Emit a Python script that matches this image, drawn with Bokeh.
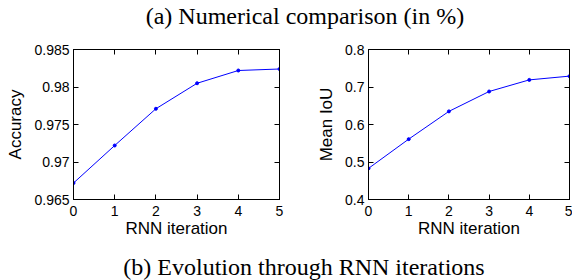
from bokeh.plotting import figure
from bokeh.models import Div, LinearAxis, FixedTicker, CustomJSTickFormatter, Range1d
from bokeh.layouts import column, row
from bokeh.embed import file_html
from bokeh.resources import INLINE

# Data
iterations = [0, 1, 2, 3, 4, 5]
accuracy = [0.9672, 0.9722, 0.9771, 0.9805, 0.9822, 0.9824]
mean_iou = [0.483, 0.561, 0.635, 0.688, 0.719, 0.729]

x_ticks = [0, 1, 2, 3, 4, 5]
acc_ticks = [0.965, 0.97, 0.975, 0.98, 0.985]
iou_ticks = [0.4, 0.5, 0.6, 0.7, 0.8]

title_text = "(a) Numerical comparison (in %)"
caption_text = "(b) Evolution through RNN iterations"
x_label = "RNN iteration"

SANS = "Liberation Sans"
SERIF = "Liberation Serif"
BLUE = "#0000ff"

num_fmt = "return Number(tick.toFixed(4)).toString();"
empty_fmt = "return '';"


def make_plot(ys, yticks, ylabel, width, left, right):
    p = figure(width=width, height=212,
               x_range=Range1d(x_ticks[0], x_ticks[-1]),
               y_range=Range1d(yticks[0], yticks[-1]),
               output_backend="svg", toolbar_location=None,
               min_border_left=left, min_border_right=right,
               min_border_top=9, min_border_bottom=53,
               styles={"flex-shrink": "0", "min-width": f"{width}px"})
    p.grid.visible = False
    p.outline_line_color = "black"
    p.outline_line_width = 1
    p.outline_line_alpha = 1

    # main axes
    for ax, ticks in ((p.xaxis[0], x_ticks), (p.yaxis[0], yticks)):
        ax.ticker = FixedTicker(ticks=ticks)
        ax.formatter = CustomJSTickFormatter(code=num_fmt)
        ax.major_tick_in = 5
        ax.major_tick_out = 0
        ax.minor_tick_line_color = None
        ax.axis_line_color = "black"
        ax.major_tick_line_color = "black"
        ax.major_label_text_font = SANS
        ax.major_label_text_font_size = "14px"
        ax.major_label_text_color = "black"
        ax.axis_label_text_font = SANS
        ax.axis_label_text_font_size = "17px"
        ax.axis_label_text_font_style = "normal"
        ax.axis_label_text_color = "black"
    p.xaxis[0].axis_label = x_label
    p.xaxis[0].major_label_standoff = 6
    p.xaxis[0].axis_label_standoff = 0
    p.yaxis[0].axis_label = ylabel
    p.yaxis[0].major_label_standoff = 4
    p.yaxis[0].axis_label_standoff = 6

    # mirrored ticks on top and right
    for loc, ticks in (("above", x_ticks), ("right", yticks)):
        ax = LinearAxis(ticker=FixedTicker(ticks=ticks),
                        formatter=CustomJSTickFormatter(code=empty_fmt),
                        major_tick_in=5, major_tick_out=0,
                        minor_tick_line_color=None,
                        major_label_standoff=0,
                        major_label_text_font_size="1px",
                        axis_line_color="black",
                        major_tick_line_color="black")
        p.add_layout(ax, loc)

    p.line(iterations, ys, line_color=BLUE, line_width=1)
    p.scatter(iterations, ys, size=3, color=BLUE)
    return p


p1 = make_plot(accuracy, acc_ticks, "Accuracy", 290, 73, 11)
p2 = make_plot(mean_iou, iou_ticks, "Mean IoU", 282, 78, 3)

W = 572
title = Div(text=title_text, width=W, height=30,
            styles={"font-family": SERIF, "font-size": "24px", "line-height": "24px",
                    "text-align": "center", "color": "black", "white-space": "nowrap",
                    "position": "relative", "top": "-1px", "left": "14px",
                    "flex-shrink": "0", "min-width": f"{W}px"})
caption = Div(text=caption_text, width=W, height=22,
              styles={"font-family": SERIF, "font-size": "24px", "line-height": "22px",
                      "text-align": "center", "color": "black", "white-space": "nowrap",
                      "position": "relative", "top": "-1px", "left": "13px",
                      "flex-shrink": "0", "min-width": f"{W}px"})

plots = row(p1, p2, width=W, height=212,
            styles={"flex-shrink": "0", "min-width": f"{W}px"})
layout = column(title, plots, caption, width=W, height=264,
                styles={"min-width": f"{W}px", "width": f"{W}px"})

open("out.html", "w").write(file_html(layout, INLINE))
